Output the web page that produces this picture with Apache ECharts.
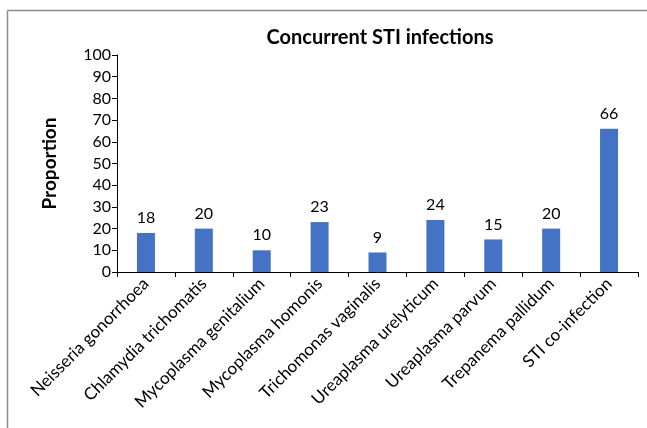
<!DOCTYPE html>
<html><head><meta charset="utf-8">
<script src="https://cdn.jsdelivr.net/npm/echarts@6/dist/echarts.min.js"></script>
<style>html,body{margin:0;padding:0;background:#fff;overflow:hidden}#c{width:647px;height:428px}</style>
</head><body><div id="c"></div>
<script>
const categories = ["Neisseria gonorrhoea","Chlamydia trichomatis","Mycoplasma genitalium","Mycoplasma homonis","Trichomonas vaginalis","Ureaplasma urelyticum","Ureaplasma parvum","Trepanema pallidum","STI co-infection"];
const proportions = [18,20,10,23,9,24,15,20,66];
const yTicks = {min:0, max:100, interval:10};
const FONT = "Lato";
const chart = echarts.init(document.getElementById('c'), null, {renderer:'canvas'});
chart.setOption({
  animation:false,
  backgroundColor:'#fff',
  title:{text:'Concurrent STI infections', left:375, top:23, textAlign:'center',
    textStyle:{fontFamily:FONT, fontWeight:'bold', fontSize:20, color:'#000'}},
  graphic:[
    {type:'line', shape:{x1:7.5,y1:10.5,x2:660,y2:10.5}, style:{stroke:'#8c8c8c', lineWidth:1.5}, silent:true},
    {type:'line', shape:{x1:7.5,y1:10.5,x2:7.5,y2:440}, style:{stroke:'#8c8c8c', lineWidth:1.5}, silent:true}
  ],
  grid:{left:117, right:9, top:55, bottom:156},
  xAxis:{type:'category', data:categories,
    axisLine:{lineStyle:{color:'#000', width:1}},
    axisTick:{show:true, length:5, lineStyle:{color:'#000'}},
    axisLabel:{rotate:45, interval:0, fontFamily:FONT, fontSize:17, color:'#000', margin:9}},
  yAxis:{type:'value', min:yTicks.min, max:yTicks.max, interval:yTicks.interval,
    name:'Proportion', nameLocation:'middle', nameGap:58,
    nameTextStyle:{fontFamily:FONT, fontWeight:'bold', fontSize:19, color:'#000'},
    axisLine:{show:true, lineStyle:{color:'#000', width:1}},
    axisTick:{show:true, length:5, lineStyle:{color:'#000'}},
    splitLine:{show:false},
    axisLabel:{fontFamily:FONT, fontSize:16, color:'#000', margin:6}},
  series:[{type:'bar', data:proportions, barWidth:18,
    itemStyle:{color:'#4472C4'},
    label:{show:true, position:'top', distance:7, fontFamily:FONT, fontSize:16, color:'#000'}}]
});
</script></body></html>
